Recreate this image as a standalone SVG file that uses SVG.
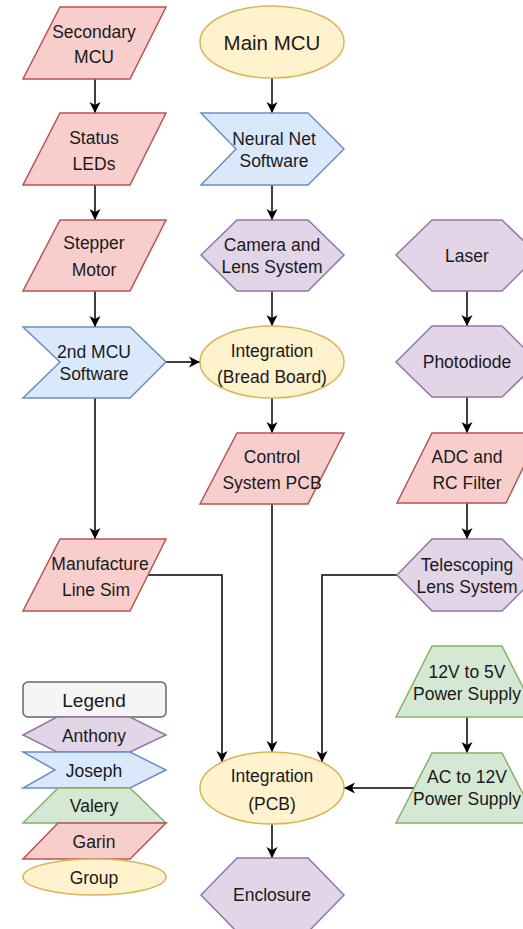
<svg xmlns="http://www.w3.org/2000/svg" width="523" height="929" viewBox="0 0 523 929">
<style>
text{font-family:"Liberation Sans",Arial,Helvetica,sans-serif;font-size:17.5px;fill:#1a1a1a;text-anchor:middle;dominant-baseline:central}
.red{fill:#f8cecc;stroke:#b85450;stroke-width:1.5}
.blue{fill:#dae8fc;stroke:#6c8ebf;stroke-width:1.5}
.green{fill:#d5e8d4;stroke:#82b366;stroke-width:1.5}
.purple{fill:#e1d5e7;stroke:#9673a6;stroke-width:1.5}
.yellow{fill:#fff2cc;stroke:#d6b656;stroke-width:1.5}
.gray{fill:#f5f5f5;stroke:#666666;stroke-width:1.5}
.edge{fill:none;stroke:#000;stroke-width:1.5;marker-end:url(#arr)}
</style>
<defs>
<marker id="arr" markerUnits="userSpaceOnUse" markerWidth="12" markerHeight="12" viewBox="0 0 12 12" refX="11" refY="6" orient="auto">
<path d="M0,0.5 L11,6 L0,11.5 L3,6 Z" fill="#000"/>
</marker>
</defs>
<rect width="523" height="929" fill="#ffffff"/>

<g id="connectors">
<path class="edge" d="M95,79 V113"/>
<path class="edge" d="M95,185 V220"/>
<path class="edge" d="M95,291 V327"/>
<path class="edge" d="M166,362 H200"/>
<path class="edge" d="M95,398 V539"/>
<path class="edge" d="M272,78 V113"/>
<path class="edge" d="M272,185 V220"/>
<path class="edge" d="M272,291 V326"/>
<path class="edge" d="M272,398 V433"/>
<path class="edge" d="M272,504 V752"/>
<path class="edge" d="M467,291 V326"/>
<path class="edge" d="M467,397 V433"/>
<path class="edge" d="M467,503 V539"/>
<path class="edge" d="M148,575 H222 V762"/>
<path class="edge" d="M397,575 H322 V762"/>
<path class="edge" d="M467,717 V753"/>
<path class="edge" d="M414,788 H344"/>
<path class="edge" d="M272,824 V858"/>
</g>

<g id="secondary-mcu">
<polygon class="red" points="60,7 166,7 130,79 23,79"/>
<text x="94" y="32">Secondary</text>
<text x="94" y="57">MCU</text>
</g>
<g id="status-leds">
<polygon class="red" points="60,113 166,113 130,185 23,185"/>
<text x="94" y="138">Status</text>
<text x="94" y="164">LEDs</text>
</g>
<g id="stepper-motor">
<polygon class="red" points="60,220 166,220 130,291 23,291"/>
<text x="94" y="243">Stepper</text>
<text x="94" y="270">Motor</text>
</g>
<g id="second-mcu-software">
<polygon class="blue" points="23,327 130,327 166,362 130,398 23,398 60,362"/>
<text x="94" y="352">2nd MCU</text>
<text x="94" y="374">Software</text>
</g>
<g id="manufacture-line-sim">
<polygon class="red" points="60,539 166,539 130,611 23,611"/>
<text x="100" y="564">Manufacture</text>
<text x="96" y="590">Line Sim</text>
</g>

<g id="main-mcu">
<ellipse class="yellow" cx="272" cy="42" rx="72" ry="36"/>
<text x="272" y="42" style="font-size:20.5px">Main MCU</text>
</g>
<g id="neural-net-software">
<polygon class="blue" points="201,113 308,113 344,149 308,185 201,185 236,149"/>
<text x="274" y="139">Neural Net</text>
<text x="274" y="161">Software</text>
</g>
<g id="camera-lens-system">
<polygon class="purple" points="201,255 237,220 308,220 344,255 308,291 237,291"/>
<text x="272" y="245">Camera and</text>
<text x="272" y="267">Lens System</text>
</g>
<g id="integration-bread-board">
<ellipse class="yellow" cx="272" cy="362" rx="72" ry="36"/>
<text x="272" y="351">Integration</text>
<text x="272" y="377">(Bread Board)</text>
</g>
<g id="control-system-pcb">
<polygon class="red" points="237,433 344,433 308,504 200,504"/>
<text x="272" y="457">Control</text>
<text x="272" y="483">System PCB</text>
</g>
<g id="integration-pcb">
<ellipse class="yellow" cx="272" cy="788" rx="72" ry="36"/>
<text x="272" y="776">Integration</text>
<text x="272" y="804">(PCB)</text>
</g>
<g id="enclosure">
<polygon class="purple" points="201,895 237,858 308,858 344,895 308,932 237,932"/>
<text x="272" y="895">Enclosure</text>
</g>

<g id="laser">
<polygon class="purple" points="396,255 432,220 502,220 538,255 502,291 432,291"/>
<text x="467" y="256">Laser</text>
</g>
<g id="photodiode">
<polygon class="purple" points="396,362 432,326 502,326 538,362 502,397 432,397"/>
<text x="467" y="362">Photodiode</text>
</g>
<g id="adc-rc-filter">
<polygon class="red" points="432,433 540,433 506,503 397,503"/>
<text x="467" y="457">ADC and</text>
<text x="467" y="483">RC Filter</text>
</g>
<g id="telescoping-lens-system">
<polygon class="purple" points="397,575 432,539 502,539 538,575 502,611 432,611"/>
<text x="467" y="565">Telescoping</text>
<text x="467" y="587">Lens System</text>
</g>
<g id="power-12v-5v">
<polygon class="green" points="432,646 502,646 538,717 396,717"/>
<text x="467" y="672">12V to 5V</text>
<text x="467" y="694">Power Supply</text>
</g>
<g id="power-ac-12v">
<polygon class="green" points="432,753 502,753 538,823 396,823"/>
<text x="467" y="777">AC to 12V</text>
<text x="467" y="799">Power Supply</text>
</g>

<g id="legend">
<rect class="gray" x="23" y="682" width="143" height="35" rx="5" ry="5"/>
<text x="94" y="700" style="font-size:19px">Legend</text>
</g>
<g id="legend-anthony">
<polygon class="purple" points="23,735 57,717 130,717 166,735 130,752 57,752"/>
<text x="94" y="736">Anthony</text>
</g>
<g id="legend-joseph">
<polygon class="blue" points="23,752 130,752 166,770 130,788 23,788 55,770"/>
<text x="94" y="771">Joseph</text>
</g>
<g id="legend-valery">
<polygon class="green" points="58,788 130,788 166,823 23,823"/>
<text x="94" y="806">Valery</text>
</g>
<g id="legend-garin">
<polygon class="red" points="58,823 166,823 130,859 23,859"/>
<text x="94" y="842">Garin</text>
</g>
<g id="legend-group">
<ellipse class="yellow" cx="94.5" cy="877" rx="71.5" ry="18"/>
<text x="94" y="878">Group</text>
</g>
</svg>
